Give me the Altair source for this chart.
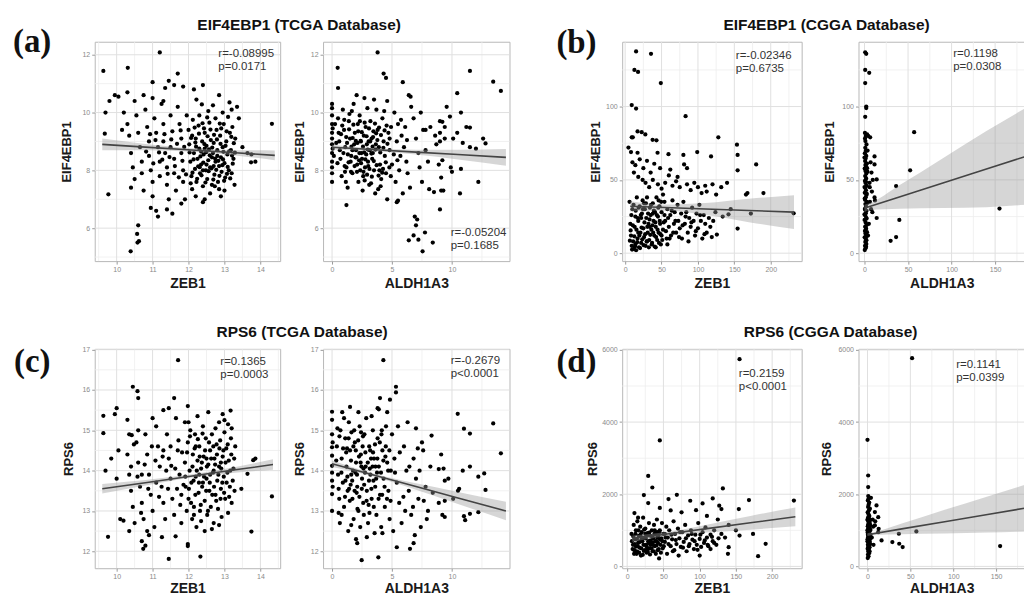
import altair as alt
import pandas as pd

FONT = "Liberation Sans"

# ---------------- (a) TCGA: EIF4EBP1 vs ZEB1 ----------------
A1_PTS = [
    (9.63, 11.44), (9.67, 9.27), (9.69, 10.0), (9.77, 7.17), (9.8, 10.4), (9.95, 10.6), (10.05, 10.55),
    (10.31, 11.55), (10.2, 10.0), (10.15, 9.4), (10.3, 10.7), (10.39, 5.2), (10.58, 5.5), (10.62, 5.55),
    (10.57, 5.8), (10.6, 6.1), (11.2, 12.08), (11.45, 11.1), (11.7, 11.35), (11.0, 11.05), (11.35, 10.85),
    (11.6, 10.95), (11.85, 10.9), (12.15, 10.8), (12.4, 10.95), (12.85, 10.6), (10.95, 6.7), (11.1, 6.6),
    (11.15, 6.4), (11.4, 6.65), (11.55, 6.5), (11.8, 6.85), (12.4, 6.9), (12.45, 7.0), (12.9, 7.1),
    (13.0, 7.3), (13.74, 8.28), (13.64, 8.6), (13.75, 8.55), (13.86, 8.3), (14.32, 9.61), (13.5, 8.8),
    (13.35, 10.2), (13.4, 9.8), (13.2, 10.1),
    (10.3, 9.6), (10.35, 9.2), (10.4, 8.6), (10.45, 8.1), (10.5, 7.7), (10.4, 7.4), (10.55, 9.9),
    (10.6, 9.3), (10.65, 8.8), (10.7, 8.3), (10.7, 7.9), (10.75, 7.3), (10.8, 10.1), (10.85, 9.5),
    (10.9, 9.0), (10.9, 8.5), (10.95, 8.0), (11.0, 7.6), (11.0, 7.1), (11.05, 9.8), (11.1, 9.3),
    (11.15, 8.8), (11.2, 8.3), (11.2, 7.8), (11.25, 10.3), (11.3, 9.6), (11.3, 9.0), (11.35, 8.6),
    (11.4, 8.1), (11.4, 7.5), (11.45, 7.0), (11.5, 9.9), (11.55, 9.35), (11.5, 8.8), (11.6, 8.4),
    (11.6, 7.9), (11.65, 7.3), (11.7, 10.2), (11.75, 9.6), (11.8, 9.1), (11.8, 8.6), (11.85, 8.0),
    (11.85, 7.6), (11.9, 7.0), (11.95, 9.9), (10.5, 10.4), (10.75, 10.6), (11.0, 10.5), (11.3, 10.4),
    (12.0, 9.4), (12.02, 8.9), (12.05, 8.3), (12.08, 7.8), (12.1, 7.35), (12.12, 9.75), (12.15, 8.6),
    (12.18, 8.05), (12.2, 9.1), (12.22, 7.6), (12.25, 8.4), (12.28, 9.55), (12.3, 8.75), (12.32, 7.9),
    (12.35, 8.2), (12.38, 9.0), (12.4, 7.45), (12.42, 8.55), (12.45, 9.3), (12.48, 8.0), (12.5, 8.85),
    (12.52, 7.7), (12.55, 8.35), (12.58, 9.65), (12.6, 8.1), (12.62, 9.05), (12.65, 7.5), (12.68, 8.6),
    (12.7, 8.95), (12.72, 7.85), (12.75, 8.3), (12.78, 9.4), (12.8, 8.7), (12.82, 7.6), (12.85, 8.15),
    (12.88, 9.2), (12.9, 8.45), (12.92, 7.95), (12.95, 8.8), (12.98, 9.6), (13.0, 8.25), (13.02, 7.75),
    (13.05, 9.0), (13.08, 8.55), (13.1, 9.85), (13.12, 8.0), (13.15, 9.3), (13.18, 8.7), (13.2, 7.9),
    (13.22, 9.5), (13.25, 8.4), (13.3, 9.1), (13.28, 7.5), (12.1, 9.2), (12.3, 9.9), (12.55, 10.05),
    (12.75, 9.8), (12.95, 10.0), (12.2, 7.1), (12.6, 7.2), (12.85, 7.35), (12.4, 8.0), (12.5, 8.2),
    (12.65, 8.45), (12.35, 8.65), (12.7, 8.15), (12.45, 8.75), (12.8, 8.5),
]
A1_PTS_DENSE = [
    (12.03, 8.62), (12.07, 9.12), (12.11, 7.92), (12.14, 8.38), (12.17, 9.48), (12.21, 8.82), (12.24, 7.71),
    (12.27, 8.14), (12.29, 9.27), (12.33, 8.48), (12.36, 7.83), (12.39, 9.63), (12.41, 8.27), (12.44, 8.91),
    (12.47, 7.58), (12.49, 8.63), (12.53, 9.18), (12.56, 7.97), (12.59, 8.52), (12.61, 9.41), (12.64, 8.07),
    (12.66, 8.79), (12.69, 7.68), (12.71, 9.23), (12.74, 8.41), (12.77, 8.02), (12.79, 9.07), (12.83, 8.33),
    (12.86, 7.81), (12.89, 8.92), (12.91, 9.45), (12.94, 8.18), (12.97, 8.64), (12.99, 7.64), (13.03, 8.85),
    (13.06, 9.35), (13.09, 8.12), (13.13, 8.66), (13.16, 7.72), (13.19, 9.16), (13.23, 8.23), (13.26, 8.94),
    (13.29, 8.61), (12.06, 7.55), (12.19, 8.96), (12.31, 8.11), (12.43, 9.45), (12.57, 8.73), (12.73, 7.45),
    (12.87, 9.62), (12.96, 8.38), (13.07, 7.88), (13.21, 8.51), (11.62, 8.15), (11.68, 8.92), (11.73, 7.76),
    (11.78, 9.38), (11.83, 8.33), (11.88, 8.81), (11.93, 7.86), (11.52, 9.07), (11.47, 8.46), (11.42, 7.88),
    (11.33, 9.25), (11.27, 8.37), (11.18, 8.62), (11.08, 9.05), (11.02, 8.24), (10.93, 9.25), (10.82, 8.65),
    (12.52, 9.83), (12.68, 10.25), (12.37, 10.28), (13.14, 10.35), (12.22, 10.45),
]
A1_FIT_X = [9.6, 10.8, 12.2, 13.3, 14.4]
A1_FIT_Y = [8.9, 8.805, 8.694, 8.607, 8.52]
A1_HALF = [0.2, 0.11, 0.06, 0.09, 0.17]

# ---------------- (a) TCGA: EIF4EBP1 vs ALDH1A3 ----------------
A2_PTS = [
    (0, 10.3), (0, 10.15), (0, 9.9), (0, 9.6), (0, 9.3), (0, 9.1), (0, 8.9), (0, 8.6), (0, 8.3), (0, 8.1),
    (0, 7.9), (0, 7.6), (0.05, 9.45), (0.05, 8.75),
    (0.47, 11.55), (0.5, 10.85), (1.2, 6.8), (3.8, 12.08), (4.3, 11.35), (4.5, 11.2), (5.9, 11.05),
    (6.4, 10.6), (6.55, 10.55), (11.5, 11.44), (13.44, 11.07), (14.08, 10.75), (10.44, 10.67), (9.56, 10.2),
    (10.75, 10.0), (9.83, 9.86), (9.0, 9.7), (9.2, 9.68), (11.2, 9.5), (11.5, 9.48), (9.4, 9.5), (9.0, 9.3),
    (10.44, 9.3), (10.1, 9.1), (12.6, 9.1), (12.8, 8.93), (10.9, 8.95), (11.5, 8.8), (12.0, 8.75),
    (9.9, 8.1), (10.0, 7.95), (10.75, 8.05), (12.2, 7.6), (9.28, 7.3), (10.67, 7.2), (9.0, 6.65),
    (6.4, 5.58), (7.2, 5.6), (8.4, 5.5), (7.55, 5.2), (6.8, 5.75), (7.75, 5.85), (7.0, 6.1), (6.9, 6.4),
    (7.1, 6.3), (5.5, 6.95), (5.4, 6.9), (4.6, 7.0), (9.1, 7.3), (8.5, 7.25), (8.1, 7.35), (9.1, 7.75),
    (8.9, 8.2), (9.2, 8.35), (8.7, 8.9), (9.0, 9.0), (8.6, 9.2), (9.4, 9.1), (8.2, 9.5), (7.8, 9.4),
    (5.2, 10.0), (5.5, 9.6), (5.8, 9.2), (6.0, 8.8), (6.2, 8.3), (6.3, 7.9), (6.5, 7.4), (5.3, 7.6),
    (5.6, 8.0), (5.9, 7.2), (6.8, 9.8), (7.0, 9.1), (7.2, 8.6), (7.3, 8.1), (7.5, 7.6), (7.6, 9.4),
    (7.8, 8.7), (8.0, 8.3), (6.6, 10.2), (7.4, 10.0), (6.1, 9.5), (5.7, 8.5), (5.0, 8.2), (4.8, 9.1),
    (4.9, 7.8), (5.4, 9.0),
    (0.5, 9.8), (0.6, 9.0), (0.7, 8.4), (0.8, 7.8), (0.9, 10.1), (1.0, 9.4), (1.1, 8.8), (1.2, 8.1),
    (1.3, 7.4), (1.4, 9.7), (1.5, 9.1), (1.6, 8.5), (1.7, 7.9), (1.8, 10.3), (1.9, 9.3), (2.0, 8.7),
    (2.1, 8.2), (2.2, 7.6), (2.3, 9.9), (2.4, 9.0), (2.5, 8.4), (2.6, 7.8), (2.7, 10.5), (2.8, 9.5),
    (2.9, 8.9), (3.0, 8.3), (3.1, 7.5), (3.2, 9.7), (3.3, 9.1), (3.4, 8.6), (3.5, 8.0), (3.6, 7.2),
    (3.7, 10.1), (3.8, 9.4), (3.9, 8.8), (4.0, 8.2), (4.1, 7.7), (4.2, 9.8), (4.3, 9.0), (4.4, 8.5),
    (4.5, 7.9), (4.6, 10.4), (4.7, 9.3), (4.8, 8.7), (1.25, 8.95), (1.55, 8.3), (1.85, 8.9), (2.15, 9.6),
    (2.45, 8.6), (2.75, 8.1), (3.05, 9.0), (3.35, 8.4), (3.65, 8.9), (3.95, 8.0), (2.35, 8.0), (1.95, 8.45),
    (2.65, 9.2), (3.15, 8.7), (1.45, 9.95), (2.05, 10.6), (3.5, 10.45), (0.75, 9.25), (0.95, 8.6),
    (1.15, 7.6), (2.55, 7.3), (3.85, 7.35), (4.25, 8.05), (4.55, 9.55), (1.7, 8.7), (2.25, 8.35),
    (2.85, 8.55), (3.45, 9.35),
]
A2_PTS_DENSE = [
    (0.55, 9.3), (0.65, 8.7), (0.85, 9.55), (1.05, 8.15), (1.18, 9.15), (1.32, 8.55), (1.42, 9.42),
    (1.58, 7.95), (1.62, 8.82), (1.78, 9.58), (1.88, 8.15), (1.98, 9.02), (2.08, 7.95), (2.12, 8.95),
    (2.18, 9.35), (2.28, 8.6), (2.32, 9.7), (2.42, 8.25), (2.48, 9.32), (2.58, 8.82), (2.62, 7.95),
    (2.72, 9.65), (2.78, 8.38), (2.88, 9.18), (2.92, 7.85), (2.98, 8.72), (3.08, 9.45), (3.12, 8.05),
    (3.18, 9.0), (3.28, 8.58), (3.32, 7.78), (3.42, 9.15), (3.48, 8.32), (3.58, 9.62), (3.62, 8.72),
    (3.72, 8.18), (3.78, 9.05), (3.88, 7.82), (3.92, 9.48), (4.02, 8.62), (4.08, 9.22), (4.18, 7.92),
    (4.28, 8.78), (4.38, 9.38), (4.48, 8.28), (4.62, 8.92), (4.78, 8.1), (4.92, 9.5), (1.02, 9.75),
    (1.38, 8.28), (1.72, 9.12), (2.02, 8.45), (2.38, 9.02), (2.68, 8.62), (3.02, 8.15), (3.38, 8.82),
    (3.68, 9.28), (0.35, 8.95), (0.45, 8.25), (0.25, 9.6), (0.15, 8.5), (1.08, 7.95), (2.72, 7.65),
    (3.25, 7.55), (4.05, 7.45), (4.35, 10.05), (1.65, 10.05), (2.95, 10.15), (5.15, 8.55), (5.45, 8.35),
    (5.75, 9.75), (6.25, 9.05),
]
A2_FIT_X = [0, 3.3, 7, 10.5, 14.5]
A2_FIT_Y = [8.8, 8.72, 8.63, 8.547, 8.45]
A2_HALF = [0.09, 0.05, 0.08, 0.17, 0.29]

# ---------------- (b) CGGA: EIF4EBP1 vs ZEB1 ----------------
B1_PTS = [
    (15, 137.6), (35.5, 136), (12.7, 125), (17.7, 123.6), (49, 116), (9, 101), (15, 98.6), (83, 93.4),
    (17, 83), (22.7, 82.5), (27.7, 81), (9, 79), (10.5, 79), (37.7, 77.3), (43, 77), (128, 79), (4.5, 72),
    (8, 69), (17, 68.5), (44.5, 68.5), (59.5, 67.5), (99, 69), (118, 66), (80, 67), (153.6, 74),
    (154.5, 67), (180, 60.5), (154.5, 56.5), (81, 60.5), (85, 58), (190, 41), (166, 40), (168, 41),
    (172.7, 27), (154.5, 16.8), (126, 12.7), (231.5, 27.2), (140, 48), (132, 45), (120, 47), (112, 42),
    (125, 40), (142, 26.5), (134, 25), (145, 30),
    (10, 62), (14, 60), (20, 64), (25, 58), (30, 63), (35, 55), (40, 61), (12, 55), (18, 52), (24, 50),
    (28, 48), (33, 45), (38, 50), (45, 47), (50, 44), (55, 48), (60, 53), (65, 46), (70, 49), (75, 45),
    (85, 47), (90, 43), (95, 48), (100, 45), (105, 41), (110, 46), (62, 57), (72, 52), (48, 58), (52, 40),
    (6, 35), (7, 20), (8, 12), (9, 5), (10, 30), (11, 8), (12, 3), (13, 18), (14, 25), (15, 2), (16, 38),
    (17, 10), (18, 22), (19, 4), (20, 32), (21, 14), (22, 7), (23, 27), (24, 36), (25, 17), (26, 11),
    (27, 30), (28, 5), (29, 24), (30, 38), (31, 14), (32, 20), (33, 9), (34, 31), (35, 26), (36, 16),
    (37, 7), (38, 34), (39, 22), (40, 12), (41, 28), (42, 18), (43, 38), (44, 9), (45, 25), (46, 14),
    (47, 32), (48, 20), (49, 6), (50, 28), (52, 16), (54, 35), (55, 22), (57, 10), (58, 30), (60, 18),
    (62, 26), (63, 12), (65, 36), (67, 20), (68, 28), (70, 14), (72, 33), (73, 22), (75, 17), (77, 27),
    (78, 10), (80, 35), (82, 20), (84, 28), (86, 14), (88, 24), (90, 18), (92, 31), (94, 22), (96, 12),
    (98, 27), (100, 17), (102, 33), (104, 22), (106, 10), (108, 26), (110, 20), (112, 14), (115, 24),
    (117, 18), (119, 11), (121, 22), (124, 28), (14, 6), (18, 14), (22, 24), (26, 34), (30, 8), (34, 18),
    (38, 27), (42, 4), (46, 36), (50, 12), (54, 26), (58, 6),
]
B1_PTS_DENSE = [
    (6.5, 8.5), (7.5, 15.5), (8.5, 26), (9.5, 2.5), (10.5, 19), (11.5, 33), (12.5, 11.5), (13.5, 4.5),
    (14.5, 29), (15.5, 16), (16.5, 7.5), (17.5, 24), (18.5, 31), (19.5, 12), (20.5, 3.5), (21.5, 26),
    (22.5, 17.5), (23.5, 9.5), (24.5, 30), (25.5, 5.5), (26.5, 21), (27.5, 13), (28.5, 34), (29.5, 8),
    (30.5, 18), (31.5, 27), (32.5, 4), (33.5, 23), (34.5, 12.5), (35.5, 33), (36.5, 6), (37.5, 19),
    (38.5, 14), (39.5, 29), (40.5, 4.5), (41.5, 21), (42.5, 11), (43.5, 26), (44.5, 16), (45.5, 31),
    (46.5, 7), (47.5, 22), (48.5, 13), (49.5, 35), (51, 9), (53, 21), (56, 15), (59, 24), (61, 10),
    (64, 29), (66, 14), (69, 22), (74, 11), (79, 19), (83, 25), (87, 8), (91, 21), (97, 15), (103, 26),
    (109, 13),
]
B1_FIT_X = [7, 55, 110, 170, 232]
B1_FIT_Y = [32, 31.15, 30.17, 29.1, 28]
B1_HALF = [3.5, 2, 4, 8, 11.5]

# ---------------- (b) CGGA: EIF4EBP1 vs ALDH1A3 ----------------
B2_PTS = [
    (0.8, 137), (2, 136), (0.8, 125), (5.4, 123), (0.8, 116), (2, 100), (2, 99), (0.8, 93), (0.5, 82),
    (1.5, 80), (3, 81), (6.5, 79), (4.2, 80), (11.5, 66), (11.5, 60.5), (14, 50.3), (9.5, 50), (5.8, 48),
    (11.5, 38), (12, 36), (14, 24), (36.3, 45.8), (40, 22.7), (36.3, 11), (30, 8.4), (52.4, 56.5),
    (57, 82.5), (155, 30.4), (7, 62), (8, 55), (6, 45), (7.5, 30), (5, 20), (9, 28), (4, 12), (3.5, 70),
    (6.2, 35), (8.5, 42), (3, 58),
    (0.3, 2.1), (1.2, 3.4), (0.6, 5.0), (2.1, 6.3), (0.9, 7.7), (1.6, 9.2), (0.2, 10.8), (2.4, 12.1),
    (1.1, 13.5), (0.5, 15.2), (1.9, 16.6), (0.8, 18.1), (2.6, 19.4), (1.3, 21.0), (0.1, 22.7), (2.0, 24.1),
    (0.7, 25.8), (1.5, 27.3), (2.3, 28.9), (0.4, 30.2), (1.8, 31.8), (1.0, 33.5), (2.7, 35.0), (0.6, 36.4),
    (1.4, 38.1), (2.2, 39.7), (0.3, 41.2), (1.7, 42.9), (0.9, 44.5), (2.5, 46.0), (1.2, 47.8), (0.5, 49.3),
    (1.9, 51.0), (0.8, 52.6), (2.1, 54.4), (1.1, 56.0), (0.2, 57.7), (1.6, 59.5), (2.8, 61.1), (0.7, 62.8),
    (1.3, 64.6), (2.0, 66.3), (0.4, 68.1), (1.5, 69.8), (0.9, 71.9), (2.3, 74.2), (1.0, 76.5), (0.6, 78.3),
    (1.8, 4.4), (2.9, 14.3), (0.0, 26.5), (3.1, 34.2), (0.0, 45.1), (3.3, 55.6), (0.0, 65.2), (1.4, 17.8),
    (2.2, 8.9), (0.8, 29.6), (1.7, 48.6), (2.6, 40.5), (1.1, 60.2), (0.3, 37.3), (2.4, 23.6), (1.9, 11.4),
]
B2_FIT_X = [0, 5, 40, 90, 140, 185]
B2_FIT_Y = [30.6, 31.6, 38.25, 47.8, 57.4, 66]
B2_HALF = [2.5, 2.3, 8, 17, 26, 33]

# ---------------- (c) TCGA: RPS6 vs ZEB1 ----------------
C1_PTS = [
    (9.63, 15.36), (9.63, 14.93), (9.69, 14.0), (9.76, 12.36), (9.95, 15.4), (10.0, 15.55), (10.3, 15.26),
    (10.45, 16.08), (10.58, 15.97), (10.6, 15.8), (10.35, 14.9), (10.42, 14.88), (11.6, 15.8), (11.71, 16.74),
    (11.3, 15.5), (11.45, 15.55), (11.98, 15.6), (12.0, 15.2), (11.9, 15.2), (11.45, 11.81), (12.33, 11.87),
    (11.98, 12.13), (11.98, 12.18), (11.64, 12.37), (11.26, 12.35), (10.74, 12.06), (10.8, 12.14),
    (10.7, 12.25), (10.35, 12.5), (10.19, 12.76), (10.85, 12.5), (13.75, 12.49), (12.85, 15.2), (13.0, 15.25),
    (13.1, 15.15), (13.2, 15.05), (13.17, 15.49), (14.32, 13.36), (13.86, 14.3), (13.64, 13.92),
    (13.47, 13.55), (13.8, 14.26), (9.85, 14.3), (10.0, 13.8), (10.1, 12.8), (10.05, 14.5),
    (10.3, 14.4), (10.35, 13.9), (10.4, 13.5), (10.45, 13.1), (10.5, 12.7), (10.55, 14.7), (10.6, 14.2),
    (10.65, 13.6), (10.7, 13.2), (10.75, 12.8), (10.8, 14.9), (10.85, 14.4), (10.9, 13.9), (10.95, 13.4),
    (11.0, 13.0), (11.05, 12.6), (11.1, 15.1), (11.15, 14.6), (11.2, 14.1), (11.25, 13.6), (11.3, 13.2),
    (11.35, 12.8), (11.4, 14.9), (11.45, 14.3), (11.5, 13.8), (11.55, 13.3), (11.6, 12.9), (11.65, 15.3),
    (11.7, 14.5), (11.75, 13.9), (11.8, 13.4), (11.8, 12.7), (10.6, 15.0), (11.0, 15.3), (10.4, 14.1),
    (10.9, 12.4), (11.3, 14.5), (11.1, 13.7), (10.7, 13.9), (11.5, 14.6),
    (11.9, 14.2), (11.92, 13.6), (11.95, 13.0), (11.98, 14.7), (12.0, 13.3), (12.03, 14.0), (12.05, 15.0),
    (12.08, 13.7), (12.1, 12.8), (12.12, 14.4), (12.15, 13.1), (12.18, 14.9), (12.2, 13.85), (12.22, 12.6),
    (12.25, 14.25), (12.28, 13.45), (12.3, 14.6), (12.32, 13.0), (12.35, 14.05), (12.38, 13.6), (12.4, 15.1),
    (12.42, 14.35), (12.45, 13.25), (12.48, 14.8), (12.5, 13.8), (12.52, 12.9), (12.55, 14.15), (12.58, 13.5),
    (12.6, 14.5), (12.62, 13.1), (12.65, 14.9), (12.68, 13.95), (12.7, 12.7), (12.72, 14.3), (12.75, 13.4),
    (12.78, 14.65), (12.8, 13.75), (12.82, 13.05), (12.85, 14.1), (12.88, 14.75), (12.9, 13.55),
    (12.92, 12.85), (12.95, 14.35), (12.98, 13.85), (13.0, 14.95), (13.02, 13.3), (13.05, 14.55),
    (13.08, 13.95), (13.1, 12.95), (13.12, 14.25), (13.15, 13.6), (13.18, 14.8), (13.2, 13.2), (13.25, 14.05),
    (13.3, 14.6), (13.28, 13.5), (12.3, 13.9), (12.5, 14.3), (12.7, 14.0), (12.4, 13.7), (12.6, 13.9),
    (12.2, 14.6), (12.9, 14.2), (12.45, 12.5), (12.15, 12.9),
]
C1_PTS_DENSE = [
    (11.91, 13.85), (11.96, 14.45), (12.01, 13.55), (12.04, 14.85), (12.07, 13.2), (12.11, 14.1),
    (12.14, 13.75), (12.17, 14.55), (12.19, 13.4), (12.23, 14.0), (12.26, 14.78), (12.29, 13.7),
    (12.31, 14.35), (12.34, 13.15), (12.37, 14.2), (12.39, 14.92), (12.43, 13.85), (12.46, 14.5),
    (12.49, 13.5), (12.51, 14.1), (12.54, 13.0), (12.57, 14.7), (12.59, 13.7), (12.63, 14.3), (12.66, 13.4),
    (12.69, 14.6), (12.71, 13.6), (12.74, 14.15), (12.77, 13.25), (12.79, 14.4), (12.83, 13.9),
    (12.86, 14.55), (12.89, 13.3), (12.91, 14.05), (12.94, 13.7), (12.97, 14.5), (12.99, 13.45),
    (13.03, 14.2), (13.06, 13.7), (13.09, 14.65), (13.13, 13.35), (13.16, 14.0), (13.19, 14.4),
    (13.23, 13.75), (13.27, 14.3), (11.63, 14.05), (11.68, 13.55), (11.72, 14.75), (11.77, 13.15),
    (11.82, 14.45), (11.86, 13.65), (11.52, 14.12), (11.43, 13.55), (11.38, 14.0), (11.28, 14.35),
    (11.18, 13.35), (11.08, 14.25), (10.98, 14.6), (10.88, 13.55), (10.78, 14.15), (10.68, 12.95),
    (10.58, 13.85), (10.48, 14.65), (12.25, 15.35), (12.55, 15.45), (12.75, 15.05), (12.95, 15.4),
    (12.35, 12.75), (12.65, 12.55), (12.85, 12.65),
]
C1_FIT_X = [9.6, 10.8, 12.2, 13.3, 14.35]
C1_FIT_Y = [13.55, 13.70, 13.88, 14.02, 14.15]
C1_HALF = [0.12, 0.07, 0.04, 0.07, 0.13]

# ---------------- (c) TCGA: RPS6 vs ALDH1A3 ----------------
C2_PTS = [
    (0, 15.46), (0, 15.26), (0, 14.9), (0, 14.58), (0, 14.37), (0, 14.12), (0, 13.95), (0, 13.75),
    (0, 13.42), (0, 13.0), (0.05, 14.7), (0.05, 13.6),
    (4.28, 16.74), (5.33, 16.08), (5.33, 15.94), (4.0, 15.8), (4.83, 15.76), (3.8, 15.55), (3.9, 15.52),
    (1.5, 15.58), (2.47, 11.78), (3.86, 11.85), (5.4, 12.1), (6.5, 12.06), (6.8, 12.2), (2.0, 12.3),
    (2.1, 12.2), (10.48, 15.41), (11.0, 15.04), (11.5, 14.92), (13.44, 15.17), (14.08, 14.43),
    (12.69, 13.93), (12.2, 13.85), (11.5, 14.1), (10.9, 14.0), (12.8, 13.52), (9.4, 13.75), (9.7, 13.8),
    (10.5, 13.5), (10.6, 13.55), (10.1, 13.3), (9.4, 13.25), (8.9, 13.2), (11.0, 12.87), (11.1, 12.77),
    (11.5, 12.93), (12.2, 12.97), (9.2, 12.9), (9.4, 12.85), (9.1, 14.4), (8.3, 14.87), (8.9, 14.04),
    (9.3, 14.05), (1.0, 15.3), (0.8, 12.9), (7.0, 15.05), (7.5, 14.7), (6.3, 15.2),
    (5.0, 14.9), (5.2, 14.3), (5.4, 13.7), (5.6, 13.2), (5.8, 12.7), (6.0, 14.6), (6.2, 14.0), (6.4, 13.5),
    (6.6, 12.9), (6.8, 14.3), (7.0, 13.8), (7.2, 13.3), (7.4, 12.6), (7.6, 14.5), (7.8, 13.6), (8.0, 13.0),
    (8.2, 14.1), (5.5, 15.1), (6.9, 12.4), (7.9, 12.8), (5.1, 12.5), (6.1, 13.0), (7.3, 14.0), (8.4, 13.45),
    (0.4, 14.6), (0.5, 13.9), (0.6, 13.3), (0.7, 15.0), (0.8, 14.3), (0.9, 13.7), (1.0, 13.1), (1.1, 14.8),
    (1.2, 14.1), (1.3, 13.5), (1.4, 15.2), (1.5, 14.5), (1.6, 13.9), (1.7, 13.3), (1.8, 12.8), (1.9, 14.7),
    (2.0, 14.2), (2.1, 13.6), (2.2, 13.0), (2.3, 15.1), (2.4, 14.4), (2.5, 13.8), (2.6, 13.2), (2.7, 14.9),
    (2.8, 14.1), (2.9, 13.5), (3.0, 12.7), (3.1, 14.6), (3.2, 13.9), (3.3, 13.3), (3.4, 15.0), (3.5, 14.3),
    (3.6, 13.6), (3.7, 12.9), (3.8, 14.8), (3.9, 14.1), (4.0, 13.4), (4.1, 12.6), (4.2, 14.5), (4.3, 13.8),
    (4.4, 13.1), (4.5, 15.1), (4.6, 14.2), (4.7, 13.5), (4.8, 12.8), (4.9, 14.0), (1.25, 14.55),
    (1.75, 14.0), (2.25, 14.35), (2.75, 13.95), (3.25, 14.3), (3.75, 13.95), (2.05, 13.45), (2.55, 14.6),
    (3.05, 13.15), (1.55, 13.65), (2.35, 12.6), (3.55, 12.45), (2.85, 15.3), (1.85, 15.0), (4.15, 15.0),
    (0.65, 12.7), (1.35, 12.5), (2.65, 12.9), (3.15, 14.05), (1.95, 13.95), (2.45, 14.1), (3.45, 13.75),
    (4.45, 14.35),
]
C2_PTS_DENSE = [
    (0.35, 14.25), (0.55, 13.55), (0.62, 14.85), (0.78, 13.95), (0.92, 14.55), (1.08, 13.35), (1.18, 14.45),
    (1.28, 13.85), (1.38, 14.8), (1.48, 13.25), (1.58, 14.25), (1.68, 13.75), (1.78, 14.6), (1.88, 13.5),
    (1.98, 14.5), (2.08, 13.9), (2.18, 14.75), (2.28, 13.35), (2.38, 14.2), (2.48, 13.55), (2.58, 14.85),
    (2.68, 13.65), (2.78, 14.45), (2.88, 13.25), (2.98, 14.2), (3.08, 13.75), (3.18, 14.5), (3.28, 13.55),
    (3.38, 14.1), (3.48, 13.1), (3.58, 14.65), (3.68, 13.8), (3.78, 14.3), (3.88, 13.3), (3.98, 14.7),
    (4.08, 13.95), (4.18, 13.4), (4.28, 14.25), (4.38, 13.6), (4.48, 14.6), (4.58, 13.3), (4.68, 14.0),
    (4.78, 14.5), (4.88, 13.25), (1.12, 13.75), (1.62, 14.95), (2.12, 13.05), (2.62, 14.05), (3.12, 12.95),
    (3.62, 14.1), (4.12, 14.9), (1.42, 13.55), (2.42, 14.95), (3.42, 14.45), (0.45, 15.05), (0.85, 15.45),
    (2.2, 15.45), (3.3, 15.35), (4.6, 15.45), (0.55, 12.95), (1.6, 12.65), (2.9, 12.35), (4.2, 12.45),
    (5.25, 13.95), (5.65, 14.45), (5.95, 13.35), (6.45, 14.1), (6.75, 13.1), (7.15, 14.55), (7.65, 13.25),
]
C2_FIT_X = [0, 3.3, 7, 10.5, 14.5]
C2_FIT_Y = [14.17, 13.904, 13.605, 13.323, 13.0]
C2_HALF = [0.08, 0.04, 0.08, 0.15, 0.23]

# ---------------- (d) CGGA: RPS6 vs ZEB1 ----------------
D1_PTS = [
    (155, 5744), (45, 3492), (29, 2509), (34.7, 2187), (23, 1976), (29, 1755), (68.5, 1985), (57, 1865),
    (132, 2160), (87, 1820), (104, 1746), (118, 1884), (168, 1838), (154, 1590), (127, 1682), (130, 1590),
    (155, 855), (173.6, 900), (191, 625), (180.6, 285), (139, 350), (140, 533), (230, 1824), (10, 1480),
    (15, 1350), (45, 1620), (60, 1550), (75, 1500), (95, 1560), (110, 1400), (125, 1300), (140, 1150),
    (150, 1000), (135, 800), (120, 650), (115, 480), (100, 300),
    (6, 900), (8, 600), (9, 1150), (10, 450), (11, 750), (12, 1000), (13, 350), (14, 1250), (15, 650),
    (16, 850), (17, 520), (18, 1100), (19, 300), (20, 950), (21, 700), (22, 1350), (23, 430), (24, 800),
    (25, 1050), (26, 600), (27, 380), (28, 920), (29, 700), (30, 1200), (31, 500), (32, 850), (33, 650),
    (34, 1000), (35, 420), (36, 780), (37, 1150), (38, 560), (39, 900), (40, 700), (41, 1300), (42, 450),
    (43, 850), (44, 220), (45, 1000), (46, 600), (47, 780), (48, 1200), (49, 500), (50, 900), (52, 680),
    (54, 1100), (55, 350), (56, 800), (58, 1000), (60, 560), (62, 750), (64, 1250), (65, 450), (66, 900),
    (68, 620), (70, 1050), (71, 300), (72, 780), (74, 540), (76, 950), (78, 680), (80, 1150), (82, 420),
    (84, 860), (86, 620), (88, 1000), (90, 740), (92, 480), (94, 880), (96, 600), (98, 1200), (100, 760),
    (102, 540), (104, 950), (106, 650), (108, 1080), (110, 800), (112, 560), (115, 880), (118, 700),
    (120, 1000), (123, 600), (126, 780), (130, 900), (12, 550), (18, 700), (25, 900), (32, 600), (38, 1000),
    (45, 750), (52, 900), (28, 500), (35, 650), (42, 950), (20, 800), (14, 400),
]
D1_PTS_DENSE = [
    (6.5, 700), (7.5, 480), (8.5, 830), (9.5, 350), (10.5, 620), (11.5, 900), (12.5, 420), (13.5, 760),
    (14.5, 560), (15.5, 1000), (16.5, 380), (17.5, 680), (18.5, 880), (19.5, 500), (20.5, 730), (21.5, 320),
    (22.5, 600), (23.5, 1020), (24.5, 450), (25.5, 780), (26.5, 560), (27.5, 860), (28.5, 400), (29.5, 650),
    (30.5, 940), (31.5, 330), (32.5, 720), (33.5, 500), (34.5, 830), (35.5, 600), (36.5, 420), (37.5, 900),
    (38.5, 700), (39.5, 350), (40.5, 580), (41.5, 800), (42.5, 650), (43.5, 480), (44.5, 950), (46.5, 380),
    (48.5, 700), (50.5, 560), (53, 800), (57, 620), (61, 880), (63, 420), (67, 730), (73, 950), (77, 520),
    (81, 780), (85, 560), (89, 900), (93, 700), (97, 460), (101, 880), (107, 720), (111, 600), (117, 820),
]
D1_FIT_X = [7, 55, 110, 170, 232]
D1_FIT_Y = [770, 899, 1047, 1208, 1375]
D1_HALF = [90, 55, 110, 190, 260]

# ---------------- (d) CGGA: RPS6 vs ALDH1A3 ----------------
D2_PTS = [
    (52, 5770), (0, 3510), (0.8, 2520), (0.8, 2200), (8.6, 1505), (12.5, 1366), (8.6, 1135), (13, 1043),
    (16.4, 720), (29, 674), (37, 628), (41, 535), (36.6, 905), (57, 970), (154.7, 563), (12.5, 950),
    (10.5, 1690), (6, 1300), (5, 800), (7, 600), (9, 1250), (4, 1900), (6.5, 1100),
    (0.3, 230), (1.2, 280), (0.6, 330), (2.1, 370), (0.9, 410), (1.6, 450), (0.2, 490), (2.4, 530),
    (1.1, 560), (0.5, 600), (1.9, 630), (0.8, 660), (2.6, 690), (1.3, 720), (0.1, 750), (2.0, 780),
    (0.7, 810), (1.5, 840), (2.3, 870), (0.4, 900), (1.8, 930), (1.0, 960), (2.7, 990), (0.6, 1020),
    (1.4, 1050), (2.2, 1080), (0.3, 1110), (1.7, 1140), (0.9, 1170), (2.5, 1200), (1.2, 1240), (0.5, 1280),
    (1.9, 1320), (0.8, 1360), (2.1, 1400), (1.1, 1450), (0.2, 1500), (1.6, 1550), (2.8, 1600), (0.7, 1650),
    (1.3, 1710), (2.0, 1770), (0.4, 1830), (1.5, 1890), (0.9, 1950), (3.2, 620), (3.5, 880), (3.0, 1150),
    (2.9, 760), (3.4, 1010), (0.0, 700), (0.0, 1000), (0.0, 1300), (1.4, 500), (2.2, 640), (0.6, 870),
    (1.7, 1060), (2.6, 1260), (1.1, 790), (0.3, 950), (2.4, 420), (1.9, 1180),
]
D2_FIT_X = [0, 5, 40, 90, 140, 185]
D2_FIT_Y = [880, 900, 1040, 1240, 1440, 1620]
D2_HALF = [40, 38, 150, 330, 500, 650]

# ---------------- tick values ----------------
ZEB_TCGA_TICKS = [10, 11, 12, 13, 14]
ZEB_TCGA_MINOR = [9.5, 10.5, 11.5, 12.5, 13.5, 14.5]
ALDH_TCGA_TICKS = [0, 5, 10]
ALDH_TCGA_MINOR = [2.5, 7.5, 12.5]
EIF_TCGA_TICKS = [6, 8, 10, 12]
EIF_TCGA_MINOR = [5, 7, 9, 11]
RPS_TCGA_TICKS = [12, 13, 14, 15, 16, 17]
RPS_TCGA_MINOR = [12.5, 13.5, 14.5, 15.5, 16.5]
ZEB_CGGA_TICKS = [0, 50, 100, 150, 200]
ZEB_CGGA_MINOR = [25, 75, 125, 175, 225]
ALDH_CGGA_TICKS = [0, 50, 100, 150]
ALDH_CGGA_MINOR = [25, 75, 125, 175]
EIF_CGGA_TICKS = [0, 50, 100]
EIF_CGGA_MINOR = [25, 75, 125]
RPS_CGGA_TICKS = [0, 2000, 4000, 6000]
RPS_CGGA_MINOR = [1000, 3000, 5000]


def text_layer(t, x, y, size=11.5, weight="normal", align="left", baseline="middle",
               font=FONT, color="#333333"):
    return alt.Chart(pd.DataFrame({"t": [t]})).mark_text(
        align=align, baseline=baseline, font=font, fontSize=size, fontWeight=weight, color=color
    ).encode(x=alt.value(x), y=alt.value(y), text="t:N")


def panel(pts, fx, fy, fh, xdom, ydom, xt, xm, yt, ym, xtitle, ytitle, w, h,
          ann, ytpad, xtpad, xext, extra=()):
    xs = alt.Scale(domain=xdom, nice=False, zero=False)
    ys = alt.Scale(domain=ydom, nice=False, zero=False)
    common = dict(grid=False, domain=False, ticks=True, tickSize=3, tickColor="#9a9a9a", tickWidth=1,
                  labelFontSize=7, labelColor="#8a8a8a", labelFont=FONT, format="d",
                  labelFlush=False, labelOverlap=False, titleFont=FONT,
                  titleFontWeight="bold", titleColor="#1a1a1a")
    xa = alt.Axis(values=xt, title=xtitle, titlePadding=xtpad, labelPadding=1, titleFontSize=14,
                  minExtent=xext, maxExtent=xext, **common)
    ya = alt.Axis(values=yt, title=ytitle, titlePadding=ytpad, labelPadding=2, titleFontSize=13,
                  minExtent=14, maxExtent=14, **common)

    def X(f):
        return alt.X(f, type="quantitative", scale=xs, axis=xa)

    def Y(f):
        return alt.Y(f, type="quantitative", scale=ys, axis=ya)

    layers = [
        alt.Chart(pd.DataFrame({"v": xm})).mark_rule(color="#eeeeee", strokeWidth=0.8).encode(x=X("v")),
        alt.Chart(pd.DataFrame({"v": ym})).mark_rule(color="#eeeeee", strokeWidth=0.8).encode(y=Y("v")),
        alt.Chart(pd.DataFrame({"v": xt})).mark_rule(color="#e0e0e0", strokeWidth=1).encode(x=X("v")),
        alt.Chart(pd.DataFrame({"v": yt})).mark_rule(color="#e0e0e0", strokeWidth=1).encode(y=Y("v")),
    ]
    df = pd.DataFrame(pts, columns=["x", "y"])
    layers.append(alt.Chart(df).mark_circle(size=18, color="black", opacity=1, clip=True)
                  .encode(x=X("x"), y=Y("y")))
    band = pd.DataFrame({
        "x": fx, "fit": fy,
        "lo": [a - b for a, b in zip(fy, fh)],
        "hi": [a + b for a, b in zip(fy, fh)],
    })
    layers.append(alt.Chart(band).mark_area(color="#999999", opacity=0.4, clip=True, interpolate="monotone")
                  .encode(x=X("x"), y=Y("lo"), y2="hi"))
    layers.append(alt.Chart(band).mark_line(color="#444444", strokeWidth=1.6, clip=True)
                  .encode(x=X("x"), y=Y("fit")))
    for t, ax, ay in ann:
        layers.append(text_layer(t, ax, ay))
    layers.extend(extra)
    return alt.layer(*layers).properties(width=w, height=h)


def spacer(w, h):
    return alt.Chart(pd.DataFrame({"a": [0]})).mark_point(opacity=0, size=1).encode(
        x=alt.value(1), y=alt.value(1)
    ).properties(width=w, height=h, view=alt.ViewBackground(stroke="transparent"))


def edge_cover(w, h):
    # the right-hand panels run off the edge of the picture: hide their right border
    return alt.Chart(pd.DataFrame({"a": [0]})).mark_rule(color="white", strokeWidth=3).encode(
        x=alt.value(w + 0.5), y=alt.value(-2), y2=alt.value(h + 2))


H = 220
TCGA_EIF_DOM = [4.86, 12.45]
TCGA_RPS_DOM = [11.58, 17.02]
ZEB_TCGA_DOM = [9.39, 14.55]
ALDH_TCGA_DOM = [-0.75, 14.8]
EIF_CGGA_DOM = [-5.4, 144.2]
RPS_CGGA_DOM = [-50, 6030]

anchor = alt.Chart(pd.DataFrame({"a": [0]})).mark_rect(opacity=0).encode(
    x=alt.value(-94), x2=alt.value(-93), y=alt.value(-40), y2=alt.value(-39))

serif = "Liberation Serif"

a1 = panel(A1_PTS + A1_PTS_DENSE, A1_FIT_X, A1_FIT_Y, A1_HALF, ZEB_TCGA_DOM, TCGA_EIF_DOM,
           ZEB_TCGA_TICKS, ZEB_TCGA_MINOR, EIF_TCGA_TICKS, EIF_TCGA_MINOR, "ZEB1", "EIF4EBP1", 186, H,
           [("r=-0.08995", 124, 12), ("p=0.0171", 124, 25)], 7, 3, 12,
           [anchor,
            text_layer("(a)", -82, 10, size=33, weight="bold", baseline="alphabetic", font=serif, color="#111111"),
            text_layer("EIF4EBP1 (TCGA Database)", 205, -17, size=15.5, weight="bold", align="center",
                       color="#111111")])
a2 = panel(A2_PTS + A2_PTS_DENSE, A2_FIT_X, A2_FIT_Y, A2_HALF, ALDH_TCGA_DOM, TCGA_EIF_DOM,
           ALDH_TCGA_TICKS, ALDH_TCGA_MINOR, EIF_TCGA_TICKS, EIF_TCGA_MINOR, "ALDH1A3", "EIF4EBP1", 187, H,
           [("r=-0.05204", 128, 192), ("p=0.1685", 128, 205)], 3, 3, 12)
b1 = panel(B1_PTS + B1_PTS_DENSE, B1_FIT_X, B1_FIT_Y, B1_HALF, [-4.1, 242.5], EIF_CGGA_DOM,
           ZEB_CGGA_TICKS, ZEB_CGGA_MINOR, EIF_CGGA_TICKS, EIF_CGGA_MINOR, "ZEB1", "EIF4EBP1", 180, H,
           [("r=-0.02346", 114, 14), ("p=0.6735", 114, 27)], 6, 3, 12,
           [text_layer("(b)", -66, 11, size=33, weight="bold", baseline="alphabetic", font=serif, color="#111111"),
            text_layer("EIF4EBP1 (CGGA Database)", 205, -17, size=15.5, weight="bold", align="center",
                       color="#111111")])
b2 = panel(B2_PTS, B2_FIT_X, B2_FIT_Y, B2_HALF, [-6.9, 184.3], EIF_CGGA_DOM,
           ALDH_CGGA_TICKS, ALDH_CGGA_MINOR, EIF_CGGA_TICKS, EIF_CGGA_MINOR, "ALDH1A3", "EIF4EBP1", 167, H,
           [("r=0.1198", 95, 12), ("p=0.0308", 95, 25)], 8, 3, 12, [edge_cover(167, H)])
c1 = panel(C1_PTS + C1_PTS_DENSE, C1_FIT_X, C1_FIT_Y, C1_HALF, ZEB_TCGA_DOM, TCGA_RPS_DOM,
           ZEB_TCGA_TICKS, ZEB_TCGA_MINOR, RPS_TCGA_TICKS, RPS_TCGA_MINOR, "ZEB1", "RPS6", 186, H,
           [("r=0.1365", 126, 13), ("p=0.0003", 126, 26)], 5, 2, 11,
           [text_layer("(c)", -81, 23, size=33, weight="bold", baseline="alphabetic", font=serif, color="#111111"),
            text_layer("RPS6 (TCGA Database)", 208, -17, size=15.5, weight="bold", align="center",
                       color="#111111")])
c2 = panel(C2_PTS + C2_PTS_DENSE, C2_FIT_X, C2_FIT_Y, C2_HALF, ALDH_TCGA_DOM, TCGA_RPS_DOM,
           ALDH_TCGA_TICKS, ALDH_TCGA_MINOR, RPS_TCGA_TICKS, RPS_TCGA_MINOR, "ALDH1A3", "RPS6", 187, H,
           [("r=-0.2679", 128, 12), ("p<0.0001", 128, 25)], 3, 2, 11)
d1 = panel(D1_PTS + D1_PTS_DENSE, D1_FIT_X, D1_FIT_Y, D1_HALF, [-6.9, 240.7], RPS_CGGA_DOM,
           ZEB_CGGA_TICKS, ZEB_CGGA_MINOR, RPS_CGGA_TICKS, RPS_CGGA_MINOR, "ZEB1", "RPS6", 180, H,
           [("r=0.2159", 117, 25), ("p<0.0001", 117, 38)], 9, 2, 11,
           [text_layer("(d)", -66, 23, size=33, weight="bold", baseline="alphabetic", font=serif, color="#111111"),
            text_layer("RPS6 (CGGA Database)", 209, -17, size=15.5, weight="bold", align="center",
                       color="#111111")])
d2 = panel(D2_PTS, D2_FIT_X, D2_FIT_Y, D2_HALF, [-10.5, 183.7], RPS_CGGA_DOM,
           ALDH_CGGA_TICKS, ALDH_CGGA_MINOR, RPS_CGGA_TICKS, RPS_CGGA_MINOR, "ALDH1A3", "RPS6", 167, H,
           [("r=0.1141", 98, 16), ("p=0.0399", 98, 29)], 11, 2, 11, [edge_cover(167, H)])

chart = alt.concat(
    a1, spacer(43, H), a2, spacer(113, H), b1, spacer(57, H), b2,
    c1, spacer(43, H), c2, spacer(113, H), d1, spacer(57, H), d2,
    columns=7, spacing=alt.RowColnumber(row=88, column=0), bounds="flush", align="each",
).properties(padding=0, background="white").configure_view(stroke="#b8b8b8", strokeWidth=1)

chart.save("out.html", embed_options={"renderer": "svg", "actions": False})
